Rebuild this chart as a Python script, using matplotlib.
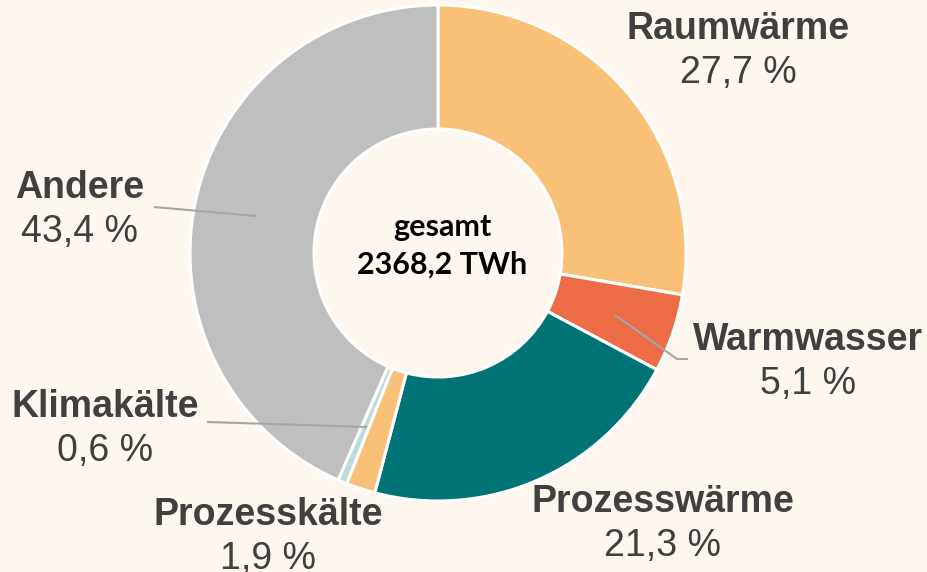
import matplotlib.pyplot as plt

# Endenergieverbrauch nach Anwendung
categories = ["Raumwärme", "Warmwasser", "Prozesswärme", "Prozesskälte", "Klimakälte", "Andere"]
shares = [27.7, 5.1, 21.3, 1.9, 0.6, 43.4]
colors = ["#F9C177", "#EC6C45", "#007377", "#F9C177", "#BCDADA", "#BFBFBF"]
total_label = "gesamt\n2368,2 TWh"

bg = "#FDF7F0"
W, H = 928, 572

plt.rcParams['font.family'] = ['Liberation Sans', 'DejaVu Sans']

fig = plt.figure(figsize=(W / 100, H / 100), dpi=100, facecolor=bg)
ax = fig.add_axes([0, 0, 1, 1])
ax.set_facecolor(bg)

cx, cy, r = 438, H - 253, 248
ax.pie(shares, colors=colors, startangle=90, counterclock=False,
       center=(cx, cy), radius=r, frame=True,
       wedgeprops=dict(width=124, edgecolor="white", linewidth=2.2))
ax.set_xlim(0, W)
ax.set_ylim(0, H)
ax.set_aspect("equal")
ax.set_axis_off()

# center text
ax.text(cx + 4, cy + 7, total_label, ha="center", va="center", fontsize=22,
        fontweight="bold", fontfamily=["Lato", "DejaVu Sans"], color="black",
        linespacing=1.4)

# label positions (pixel coordinates, top-left origin)
label_pos = {
    "Raumwärme": (738, 29),
    "Warmwasser": (808, 340),
    "Prozesswärme": (663, 502),
    "Prozesskälte": (268, 515),
    "Klimakälte": (105, 407),
    "Andere": (80, 188),
}
txt = "#404040"
for name, val in zip(categories, shares):
    x, y = label_pos[name]
    ax.text(x, H - y, name, ha="center", va="center", fontsize=27,
            fontweight="bold", color=txt)
    ax.text(x, H - y - 44, f"{val:.1f} %".replace(".", ","), ha="center", va="center",
            fontsize=27, color=txt)

# leader lines
line_kw = dict(color="#A6A6A6", linewidth=1.5, solid_capstyle="butt")
ax.plot([154, 256], [H - 207, H - 216], **line_kw)
ax.plot([615, 677, 688], [H - 315, H - 359, H - 359], **line_kw)
ax.plot([207, 367], [H - 422, H - 427], **line_kw)

fig.savefig("out.png", dpi=100, facecolor=bg)
